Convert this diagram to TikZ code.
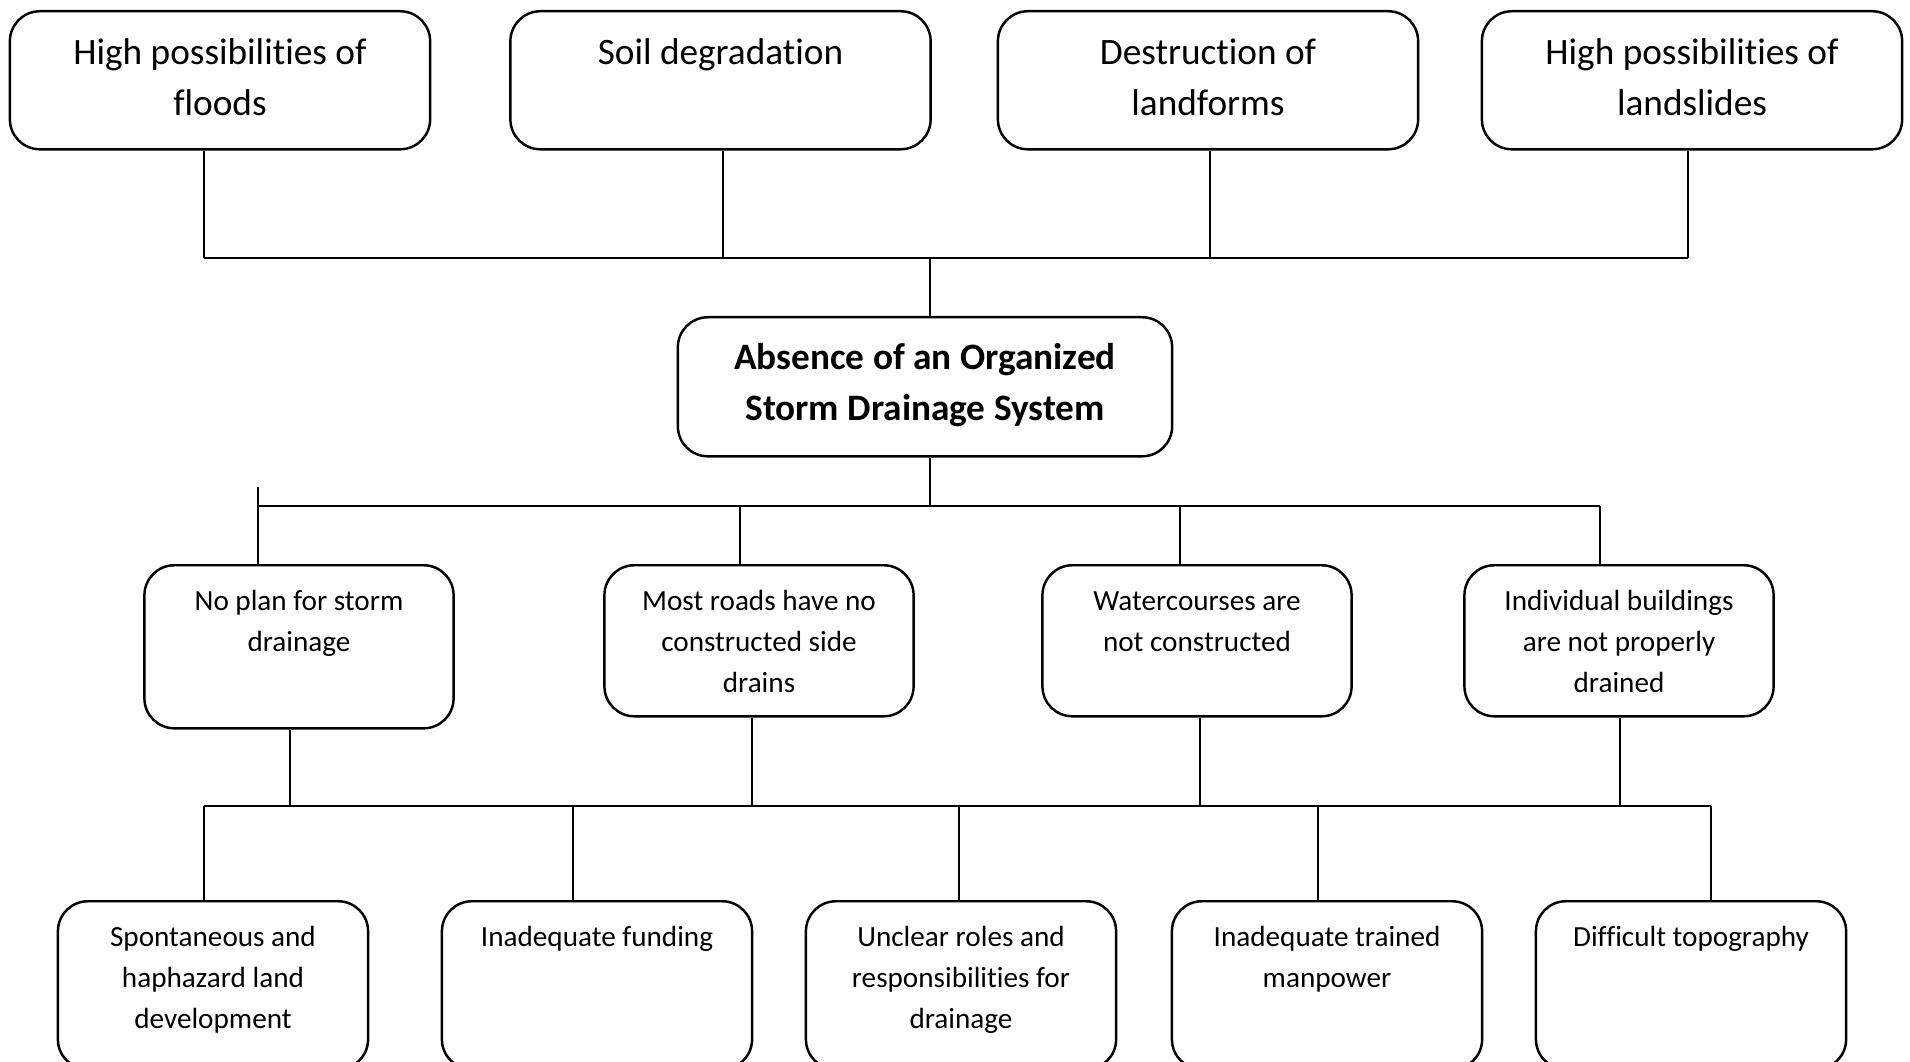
\documentclass[tikz,border=0pt]{standalone}
\usepackage{fontspec}
\setmainfont{Carlito}[ Ligatures = NoCommon ]
\tikzset{
	box/.style = { draw , rounded corners = 0.3cm , line width = 0.7pt , anchor = north , align = flush center , inner xsep = 0.1cm , inner ysep = 0pt },
	effect/.style = { box , text width = 4.0cm , font = \fontsize{10.6}{14.5}\selectfont , text height = 0.53cm , text depth = 0.85cm },
	problem/.style = { box , text width = 4.74cm , font = \fontsize{10.6}{14.5}\selectfont\bfseries , text height = 0.52cm , text depth = 0.87cm },
	cause/.style = { box , text width = 2.89cm , font = \fontsize{8.3}{11.65}\selectfont , text height = 0.455cm , text depth = 1.055cm },
	root/.style = { box , text width = 2.90cm , font = \fontsize{8.3}{11.65}\selectfont , text height = 0.45cm , text depth = 1.23cm },
	link/.style = { line width = 0.6pt }
}

\begin{document}
\begin{tikzpicture}[ x = 0.01cm , y = -0.01cm ]
	\useasboundingbox (0,0) rectangle (1910,1061);
	\clip (0,0) rectangle (1910,1061);

	\node [effect] (floods) at (220,10)
	{ High possibilities of \\ floods };
	\node [effect] (soil) at (720.5,10)
	{ Soil degradation };
	\node [effect] (landforms) at (1208,10)
	{ Destruction of \\ landforms };
	\node [effect] (landslides) at (1692,10)
	{ High possibilities of \\ landslides };

	\node [problem] (absence) at (925,316)
	{ Absence of an Organized \\ Storm Drainage System };

	\node [cause , text depth = 1.175cm ] (noplan) at (299,564)
	{ No plan for storm \\ drainage };
	\node [cause] (roads) at (759,564)
	{ Most roads have no \\ constructed side \\ drains };
	\node [cause] (water) at (1197,564)
	{ Watercourses are \\ not constructed };
	\node [cause] (buildings) at (1619,564)
	{ Individual buildings \\ are not properly \\ drained };

	\node [root] (spont) at (213,900)
	{ Spontaneous and \\ haphazard land \\ development };
	\node [root] (funding) at (597,900)
	{ Inadequate funding };
	\node [root] (roles) at (961,900)
	{ Unclear roles and \\ responsibilities for \\ drainage };
	\node [root] (manpower) at (1327,900)
	{ Inadequate trained \\ manpower };
	\node [root] (topo) at (1691,900)
	{ Difficult topography };

	\coordinate (a1) at (204,258);
	\coordinate (a2) at (722.6,258);
	\coordinate (a3) at (1210,258);
	\coordinate (a4) at (1688,258);
	\coordinate (ac) at (930,258);
	\draw [link] (floods.south -| a1) -- (a1);
	\draw [link] (soil.south -| a2) -- (a2);
	\draw [link] (landforms.south -| a3) -- (a3);
	\draw [link] (landslides.south -| a4) -- (a4);
	\draw [link] (a1) -- (a4);
	\draw [link] (ac) -- (absence.north -| ac);

	\coordinate (b1) at (258,506);
	\coordinate (b2) at (740,506);
	\coordinate (b3) at (1180,506);
	\coordinate (b4) at (1600,506);
	\coordinate (bc) at (930,506);
	\coordinate (stub) at (258,487);
	\draw [link] (absence.south -| bc) -- (bc);
	\draw [link] (b1) -- (b4);
	\draw [link] (stub) -- (noplan.north -| stub);
	\draw [link] (b2) -- (roads.north -| b2);
	\draw [link] (b3) -- (water.north -| b3);
	\draw [link] (b4) -- (buildings.north -| b4);

	\coordinate (c1) at (290,806);
	\coordinate (c2) at (752,806);
	\coordinate (c3) at (1200,806);
	\coordinate (c4) at (1620,806);
	\draw [link] (noplan.south -| c1) -- (c1);
	\draw [link] (roads.south -| c2) -- (c2);
	\draw [link] (water.south -| c3) -- (c3);
	\draw [link] (buildings.south -| c4) -- (c4);

	\coordinate (d1) at (204,806);
	\coordinate (d2) at (572.6,806);
	\coordinate (d3) at (959,806);
	\coordinate (d4) at (1318,806);
	\coordinate (d5) at (1710.6,806);
	\draw [link] (d1) -- (d5);
	\draw [link] (d1) -- (spont.north -| d1);
	\draw [link] (d2) -- (funding.north -| d2);
	\draw [link] (d3) -- (roles.north -| d3);
	\draw [link] (d4) -- (manpower.north -| d4);
	\draw [link] (d5) -- (topo.north -| d5);
\end{tikzpicture}
\end{document}
